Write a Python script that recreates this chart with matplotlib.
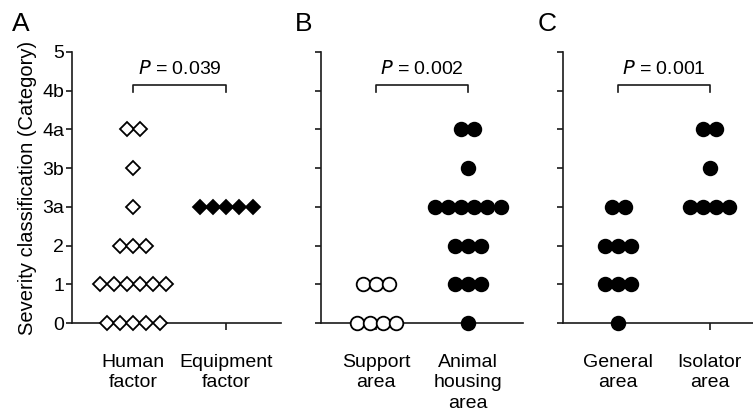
import numpy as np
import matplotlib
matplotlib.use("Agg")
import matplotlib.pyplot as plt

plt.rcParams["font.family"] = ["Liberation Sans", "DejaVu Sans"]

LEVELS = ["0", "1", "2", "3a", "3b", "4a", "4b", "5"]

# counts of cases per severity level (index into LEVELS)
HUMAN = [5, 6, 3, 1, 1, 2, 0, 0]
EQUIPMENT = [0, 0, 0, 5, 0, 0, 0, 0]
SUPPORT = [4, 3, 0, 0, 0, 0, 0, 0]
ANIMAL = [1, 3, 3, 6, 1, 2, 0, 0]
GENERAL = [1, 3, 3, 2, 0, 0, 0, 0]
ISOLATOR = [0, 0, 0, 4, 1, 2, 0, 0]

PANELS = [
    ("A", ["Human\nfactor", "Equipment\nfactor"], [HUMAN, EQUIPMENT],
     [("D", "white"), ("D", "black")], "0.039"),
    ("B", ["Support\narea", "Animal\nhousing\narea"], [SUPPORT, ANIMAL],
     [("o", "white"), ("o", "black")], "0.002"),
    ("C", ["General\narea", "Isolator\narea"], [GENERAL, ISOLATOR],
     [("o", "black"), ("o", "black")], "0.001"),
]

W, H = 753, 416
# axes rectangles in pixels: left, right, x limits, letter x
RECTS = [(72, 281, (0.34, 2.59), 12), (321, 523, (0.40, 2.60), 295),
         (563, 753, (0.40, 2.47), 538)]
Y0, Y1 = 323, 52
STEP = 0.142
INK = "#1a1a1a"

fig = plt.figure(figsize=(W / 100, H / 100), dpi=100)

for (letter, names, groups, styles, pval), (l, r, xl, lx) in zip(PANELS, RECTS):
    ax = fig.add_axes([l / W, (H - Y0) / H, (r - l) / W, (Y0 - Y1) / H])
    for pos, (counts, (mk, fc)) in enumerate(zip(groups, styles), start=1):
        for lev, n in enumerate(counts):
            if n == 0:
                continue
            xs = pos + (np.arange(n) - (n - 1) / 2) * STEP
            ax.plot(xs, [lev] * n, ls="none", marker=mk,
                    ms=9.8 if mk == "o" else 7.5, mfc=fc, mec="black",
                    mew=1.3, clip_on=False, zorder=4)
    ax.set_xlim(*xl)
    ax.set_ylim(0, len(LEVELS) - 1)
    ax.set_xticks([1, 2])
    ax.set_xticklabels(names, fontsize=14, linespacing=1.3)
    ax.set_yticks(range(len(LEVELS)))
    if letter == "A":
        ax.set_yticklabels(LEVELS, fontsize=14)
        ax.set_ylabel("Severity classification (Category)", fontsize=14.5,
                      labelpad=4)
    else:
        ax.set_yticklabels([])
    for s in ("top", "right"):
        ax.spines[s].set_visible(False)
    for s in ("left", "bottom"):
        ax.spines[s].set_linewidth(1.2)
        ax.spines[s].set_color(INK)
    ax.tick_params(axis="y", length=4, width=1.2, pad=1.5, color=INK)
    ax.tick_params(axis="x", length=5, width=1.2, pad=17, color=INK)
    ax.patch.set_alpha(0)

    # significance bracket
    yb, yd = 6.15, 5.97
    ax.plot([1, 1, 2, 2], [yd, yb, yb, yd], color=INK, lw=1.2, clip_on=False)
    ax.text(1.5, 6.33, f"$\\mathit{{P}}$ = {pval}", ha="center", va="bottom",
            fontsize=14)
    fig.text(lx / W, 1 - 24 / H, letter, fontsize=19, va="center", ha="left")

fig.savefig("out.png", dpi=100)
